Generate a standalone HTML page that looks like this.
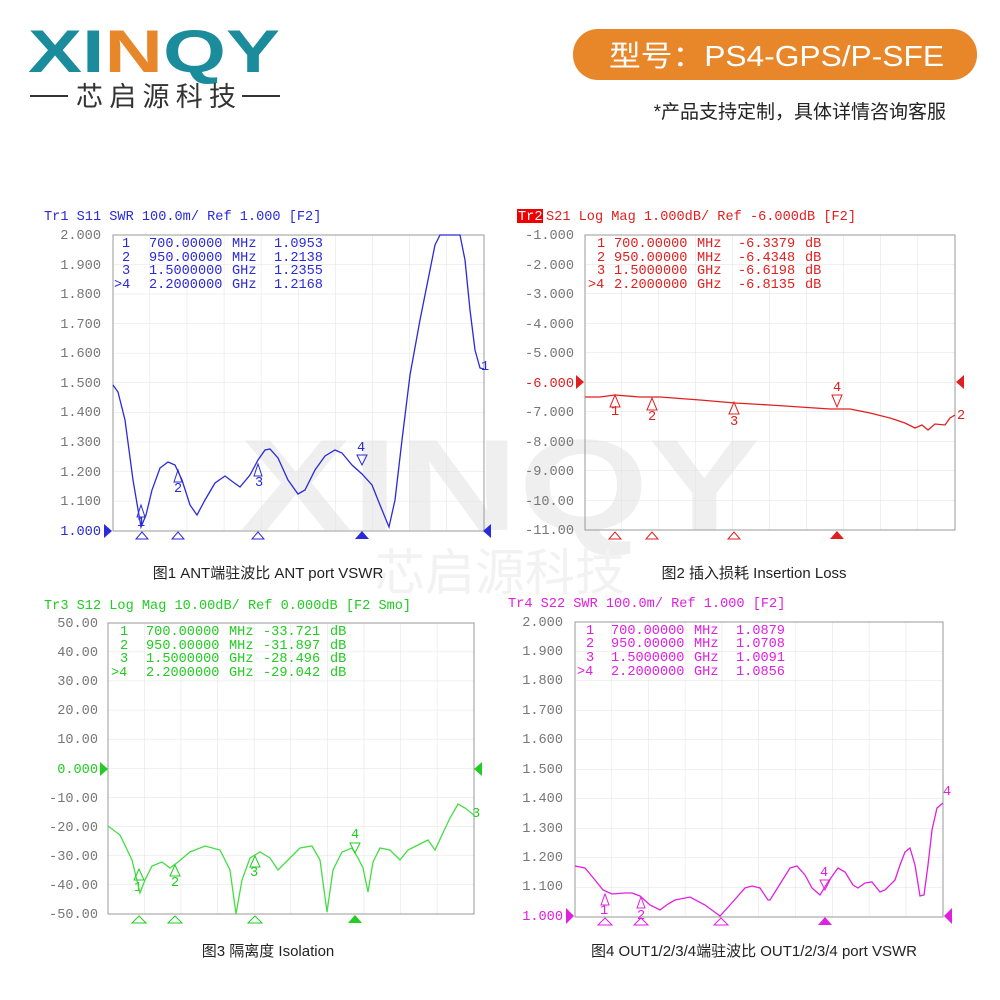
<!DOCTYPE html>
<html><head><meta charset="utf-8"><style>
body{margin:0;background:#fff;}
svg{display:block}
.m{font-family:"Liberation Mono","DejaVu Sans Mono",monospace;font-size:13.6px}
.c{font-family:"Liberation Sans","Noto Sans CJK SC",sans-serif}
</style></head><body>
<svg width="1000" height="1000" viewBox="0 0 1000 1000" xmlns="http://www.w3.org/2000/svg">
<defs>
<pattern id="g1" x="113" y="235" width="37.1" height="29.6" patternUnits="userSpaceOnUse"><path d="M37.1 0V29.6M0 29.6H37.1" stroke="#e2e2e2" fill="none"/></pattern>
<pattern id="g2" x="585" y="235" width="37" height="29.5" patternUnits="userSpaceOnUse"><path d="M37 0V29.5M0 29.5H37" stroke="#e2e2e2" fill="none"/></pattern>
<pattern id="g3" x="108" y="623" width="36.6" height="29.1" patternUnits="userSpaceOnUse"><path d="M36.6 0V29.1M0 29.1H36.6" stroke="#e2e2e2" fill="none"/></pattern>
<pattern id="g4" x="575" y="622" width="36.8" height="29.5" patternUnits="userSpaceOnUse"><path d="M36.8 0V29.5M0 29.5H36.8" stroke="#e2e2e2" fill="none"/></pattern>
</defs>
<!-- header -->
<text x="28" y="72" class="c" font-size="60" font-weight="bold" fill="#1b8c9c" textLength="252" lengthAdjust="spacingAndGlyphs">XI<tspan fill="#e8862a">N</tspan>QY</text>
<line x1="30" y1="96" x2="68" y2="96" stroke="#333" stroke-width="2"/>
<text x="76" y="106" class="c" font-size="27" fill="#333" textLength="160">芯启源科技</text>
<line x1="242" y1="96" x2="280" y2="96" stroke="#333" stroke-width="2"/>
<rect x="573" y="29" width="404" height="51" rx="25" fill="#e8862a"/>
<text x="609" y="66" class="c" font-size="29" fill="#fff" textLength="335" lengthAdjust="spacingAndGlyphs">型号：PS4-GPS/P-SFE</text>
<text x="946" y="118" class="c" font-size="19" fill="#222" text-anchor="end">*产品支持定制，具体详情咨询客服</text>
<!-- watermark -->
<text x="500" y="530" class="c" font-size="130" font-weight="bold" fill="#efefef" text-anchor="middle" textLength="520" lengthAdjust="spacingAndGlyphs">XINQY</text>
<text x="500" y="590" class="c" font-size="50" fill="#f2f2f2" text-anchor="middle">芯启源科技</text>

<!-- chart1 -->
<rect x="113" y="235" width="371" height="296" fill="url(#g1)" stroke="#999"/>
<text x="44" y="220" class="m" fill="#2a2ad8">Tr1 S11 SWR 100.0m/ Ref 1.000 [F2]</text>
<g class="m" fill="#777" text-anchor="end">
<text x="101" y="239">2.000</text><text x="101" y="269">1.900</text><text x="101" y="298">1.800</text><text x="101" y="328">1.700</text><text x="101" y="357">1.600</text><text x="101" y="387">1.500</text><text x="101" y="416">1.400</text><text x="101" y="446">1.300</text><text x="101" y="476">1.200</text><text x="101" y="505">1.100</text><text x="101" y="535" fill="#2a2ad8">1.000</text></g>
<g class="m" fill="#2a2ad8">
<text x="122" y="247">1</text><text x="149" y="247">700.00000</text><text x="232" y="247">MHz</text><text x="274" y="247">1.0953</text>
<text x="122" y="261">2</text><text x="149" y="261">950.00000</text><text x="232" y="261">MHz</text><text x="274" y="261">1.2138</text>
<text x="122" y="274">3</text><text x="149" y="274">1.5000000</text><text x="232" y="274">GHz</text><text x="274" y="274">1.2355</text>
<text x="114" y="288">&gt;4</text><text x="149" y="288">2.2000000</text><text x="232" y="288">GHz</text><text x="274" y="288">1.2168</text>
<text x="481" y="370">1</text><text x="137" y="526">1</text><text x="174" y="492">2</text><text x="255" y="486">3</text><text x="357" y="451">4</text></g>
<polyline fill="none" stroke="#2a2ad8" stroke-width="1.3" points="113,385 118,392 125,420 133,480 141,527 146,515 152,490 160,468 168,462 175,465 182,480 190,505 197,515 205,500 215,483 225,476 233,482 240,487 250,475 258,460 265,450 270,449 278,458 288,480 298,494 305,490 315,470 325,456 335,450 342,453 352,465 362,474 372,485 380,505 389,527 395,500 402,440 410,375 420,320 428,280 435,245 440,235 460,235 465,260 470,310 475,350 480,368 484,369"/>
<g fill="none" stroke="#2a2ad8"><path d="M136 539l6-7 6 7z"/><path d="M172 539l6-7 6 7z"/><path d="M252 539l6-7 6 7z"/><path d="M137 517l4-12 4 12z"/><path d="M174 482l4-12 4 12z"/><path d="M254 476l4-12 4 12z"/><path d="M357 455l5 10 5-10z"/></g>
<path d="M355 539l7-8 7 8z" fill="#2a2ad8"/><path d="M104 524l8 7-8 7z" fill="#2a2ad8"/><path d="M491 524l-8 7 8 7z" fill="#2a2ad8"/>
<text x="268" y="578" class="c" font-size="15" fill="#222" text-anchor="middle">图1 ANT端驻波比  ANT port VSWR</text>

<!-- chart2 -->
<rect x="585" y="235" width="370" height="295" fill="url(#g2)" stroke="#999"/>
<rect x="517" y="209" width="26" height="14" fill="#e00"/>
<text x="518" y="220" class="m" fill="#fff">Tr2</text>
<text x="546" y="220" class="m" fill="#e02020">S21 Log Mag 1.000dB/ Ref -6.000dB [F2]</text>
<g class="m" fill="#777" text-anchor="end">
<text x="574" y="239">-1.000</text><text x="574" y="269">-2.000</text><text x="574" y="298">-3.000</text><text x="574" y="328">-4.000</text><text x="574" y="357">-5.000</text><text x="574" y="387" fill="#e02020">-6.000</text><text x="574" y="416">-7.000</text><text x="574" y="446">-8.000</text><text x="574" y="475">-9.000</text><text x="574" y="505">-10.00</text><text x="574" y="534">-11.00</text></g>
<g class="m" fill="#e02020">
<text x="597" y="247">1</text><text x="614" y="247">700.00000</text><text x="697" y="247">MHz</text><text x="738" y="247">-6.3379</text><text x="805" y="247">dB</text>
<text x="597" y="261">2</text><text x="614" y="261">950.00000</text><text x="697" y="261">MHz</text><text x="738" y="261">-6.4348</text><text x="805" y="261">dB</text>
<text x="597" y="274">3</text><text x="614" y="274">1.5000000</text><text x="697" y="274">GHz</text><text x="738" y="274">-6.6198</text><text x="805" y="274">dB</text>
<text x="588" y="288">&gt;4</text><text x="614" y="288">2.2000000</text><text x="697" y="288">GHz</text><text x="738" y="288">-6.8135</text><text x="805" y="288">dB</text>
<text x="611" y="415">1</text><text x="648" y="420">2</text><text x="730" y="425">3</text><text x="833" y="391">4</text><text x="957" y="419">2</text></g>
<polyline fill="none" stroke="#e02020" stroke-width="1.3" points="585,397 600,397 615,395 640,397 660,397 700,400 735,403 770,405 800,407 830,409 850,409 870,413 890,418 905,423 915,428 922,425 928,430 935,424 945,425 950,418 955,415"/>
<g fill="none" stroke="#e02020"><path d="M610 407l5-12 5 12z"/><path d="M647 410l5-12 5 12z"/><path d="M729 414l5-12 5 12z"/><path d="M832 395l5 12 5-12z"/>
<path d="M609 539l6-7 6 7z"/><path d="M646 539l6-7 6 7z"/><path d="M728 539l6-7 6 7z"/></g>
<path d="M830 539l7-8 7 8z" fill="#e02020"/><path d="M576 375l8 7-8 7z" fill="#e02020"/><path d="M964 375l-8 7 8 7z" fill="#e02020"/>
<text x="754" y="578" class="c" font-size="15" fill="#222" text-anchor="middle">图2 插入损耗  Insertion Loss</text>

<!-- chart3 -->
<rect x="108" y="623" width="366" height="291" fill="url(#g3)" stroke="#999"/>
<text x="44" y="609" class="m" fill="#22cc22">Tr3 S12 Log Mag 10.00dB/ Ref 0.000dB [F2 Smo]</text>
<g class="m" fill="#777" text-anchor="end">
<text x="98" y="627">50.00</text><text x="98" y="656">40.00</text><text x="98" y="685">30.00</text><text x="98" y="714">20.00</text><text x="98" y="743">10.00</text><text x="98" y="773" fill="#22cc22">0.000</text><text x="98" y="802">-10.00</text><text x="98" y="831">-20.00</text><text x="98" y="860">-30.00</text><text x="98" y="889">-40.00</text><text x="98" y="918">-50.00</text></g>
<g class="m" fill="#22cc22">
<text x="120" y="635">1</text><text x="146" y="635">700.00000</text><text x="229" y="635">MHz</text><text x="263" y="635">-33.721</text><text x="330" y="635">dB</text>
<text x="120" y="649">2</text><text x="146" y="649">950.00000</text><text x="229" y="649">MHz</text><text x="263" y="649">-31.897</text><text x="330" y="649">dB</text>
<text x="120" y="662">3</text><text x="146" y="662">1.5000000</text><text x="229" y="662">GHz</text><text x="263" y="662">-28.496</text><text x="330" y="662">dB</text>
<text x="111" y="676">&gt;4</text><text x="146" y="676">2.2000000</text><text x="229" y="676">GHz</text><text x="263" y="676">-29.042</text><text x="330" y="676">dB</text>
<text x="134" y="891">1</text><text x="171" y="886">2</text><text x="250" y="876">3</text><text x="351" y="838">4</text><text x="472" y="817">3</text></g>
<polyline fill="none" stroke="#44dd44" stroke-width="1.3" points="108,826 120,835 132,860 140,893 145,880 152,866 162,862 170,868 178,862 190,852 205,846 220,850 230,870 236,914 242,880 250,858 260,852 270,858 278,870 288,860 300,848 312,846 320,860 327,912 333,870 342,852 352,848 358,858 363,868 368,892 373,862 380,848 390,850 400,860 408,850 418,845 428,840 435,850 442,835 450,818 458,804 465,808 474,815"/>
<g fill="none" stroke="#22cc22"><path d="M132 923l7-7 7 7z"/><path d="M168 923l7-7 7 7z"/><path d="M248 923l7-7 7 7z"/><path d="M134 880l5-11 5 11z"/><path d="M170 876l5-11 5 11z"/><path d="M250 867l5-11 5 11z"/><path d="M350 843l5 10 5-10z"/></g>
<path d="M348 923l7-8 7 8z" fill="#22cc22"/><path d="M100 762l8 7-8 7z" fill="#22cc22"/><path d="M482 762l-8 7 8 7z" fill="#22cc22"/>
<text x="268" y="956" class="c" font-size="15" fill="#222" text-anchor="middle">图3 隔离度  Isolation</text>

<!-- chart4 -->
<rect x="575" y="622" width="368" height="295" fill="url(#g4)" stroke="#999"/>
<text x="508" y="607" class="m" fill="#e020e0">Tr4 S22 SWR 100.0m/ Ref 1.000 [F2]</text>
<g class="m" fill="#777" text-anchor="end">
<text x="563" y="626">2.000</text><text x="563" y="655">1.900</text><text x="563" y="684">1.800</text><text x="563" y="714">1.700</text><text x="563" y="743">1.600</text><text x="563" y="773">1.500</text><text x="563" y="802">1.400</text><text x="563" y="832">1.300</text><text x="563" y="861">1.200</text><text x="563" y="890">1.100</text><text x="563" y="920" fill="#e020e0">1.000</text></g>
<g class="m" fill="#e020e0">
<text x="586" y="634">1</text><text x="611" y="634">700.00000</text><text x="694" y="634">MHz</text><text x="736" y="634">1.0879</text>
<text x="586" y="647">2</text><text x="611" y="647">950.00000</text><text x="694" y="647">MHz</text><text x="736" y="647">1.0708</text>
<text x="586" y="661">3</text><text x="611" y="661">1.5000000</text><text x="694" y="661">GHz</text><text x="736" y="661">1.0091</text>
<text x="577" y="675">&gt;4</text><text x="611" y="675">2.2000000</text><text x="694" y="675">GHz</text><text x="736" y="675">1.0856</text>
<text x="600" y="914">1</text><text x="637" y="919">2</text><text x="820" y="876">4</text><text x="943" y="795">4</text></g>
<polyline fill="none" stroke="#e020e0" stroke-width="1.3" points="575,866 585,868 595,880 603,890 612,894 625,893 632,893 640,896 650,905 660,910 668,904 675,900 690,897 705,905 720,916 730,905 745,888 752,886 760,888 768,900 770,900 780,884 790,868 797,866 805,875 812,888 820,895 828,882 838,868 845,872 853,885 858,888 865,883 872,882 880,892 885,890 895,880 900,865 905,852 910,848 915,865 920,896 924,895 928,865 932,830 937,808 943,803"/>
<g fill="none" stroke="#e020e0"><path d="M598 925l7-7 7 7z"/><path d="M634 925l7-7 7 7z"/><path d="M714 925l7-7 7 7z"/><path d="M601 905l4-11 4 11z"/><path d="M637 908l4-11 4 11z"/><path d="M820 880l5 10 5-10z"/></g>
<path d="M818 925l7-8 7 8z" fill="#e020e0"/><path d="M566 908l8 8-8 8z" fill="#e020e0"/><path d="M952 908l-8 8 8 8z" fill="#e020e0"/>
<text x="754" y="956" class="c" font-size="15" fill="#222" text-anchor="middle">图4 OUT1/2/3/4端驻波比  OUT1/2/3/4 port VSWR</text>
</svg>
</body></html>
